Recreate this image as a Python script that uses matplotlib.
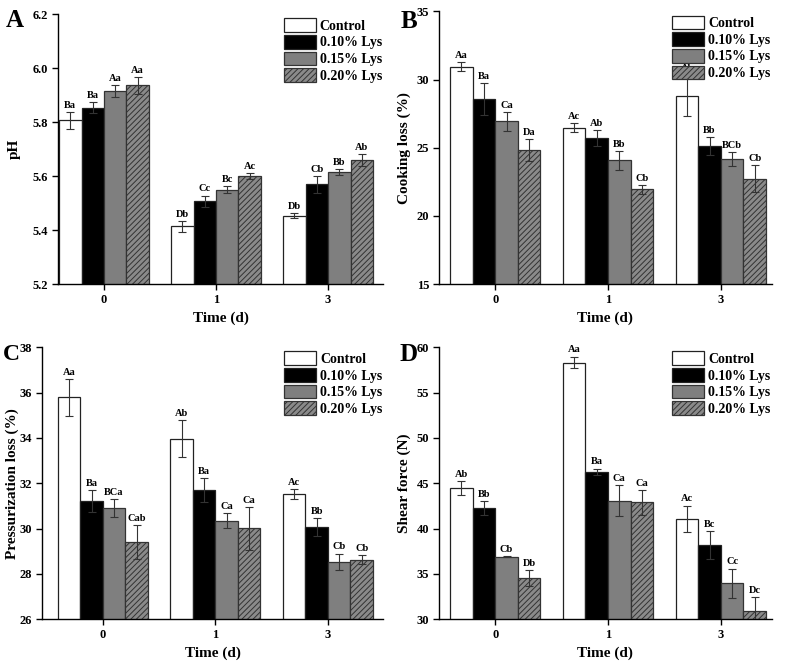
import numpy as np
import matplotlib
matplotlib.use("Agg")
import matplotlib.pyplot as plt
from matplotlib.ticker import FormatStrFormatter

plt.rcParams['font.family'] = ['Liberation Serif', 'DejaVu Serif']
plt.rcParams['font.weight'] = 'bold'
plt.rcParams['axes.labelweight'] = 'bold'
plt.rcParams['hatch.linewidth'] = 0.7

# ---- data (rows = storage day, columns = treatment) ----
days = ['0', '1', '3']
treatments = ['Control', '0.10% Lys', '0.15% Lys', '0.20% Lys']

ph_mean = [[5.806, 5.853, 5.915, 5.936], [5.414, 5.507, 5.550, 5.600], [5.453, 5.569, 5.615, 5.660]]
ph_sd = [[0.031, 0.021, 0.021, 0.031], [0.020, 0.021, 0.012, 0.010], [0.010, 0.031, 0.011, 0.021]]
ph_sig = [['Ba', 'Ba', 'Aa', 'Aa'], ['Db', 'Cc', 'Bc', 'Ac'], ['Db', 'Cb', 'Bb', 'Ab']]

cook_mean = [[30.93, 28.56, 26.95, 24.85], [26.46, 25.73, 24.07, 21.95], [28.80, 25.12, 24.17, 22.73]]
cook_sd = [[0.32, 1.15, 0.70, 0.80], [0.32, 0.60, 0.67, 0.33], [1.50, 0.67, 0.50, 0.98]]
cook_sig = [['Aa', 'Ba', 'Ca', 'Da'], ['Ac', 'Ab', 'Bb', 'Cb'], ['Ab', 'Bb', 'BCb', 'Cb']]

press_mean = [[35.79, 31.21, 30.90, 29.41], [33.96, 31.69, 30.35, 30.01], [31.53, 30.07, 28.53, 28.62]]
press_sd = [[0.82, 0.50, 0.40, 0.75], [0.82, 0.53, 0.33, 0.95], [0.22, 0.38, 0.37, 0.20]]
press_sig = [['Aa', 'Ba', 'BCa', 'Cab'], ['Ab', 'Ba', 'Ca', 'Ca'], ['Ac', 'Bb', 'Cb', 'Cb']]

shear_mean = [[44.49, 42.28, 36.91, 34.56], [58.31, 46.29, 43.09, 42.90], [41.07, 38.20, 34.00, 30.88]]
shear_sd = [[0.77, 0.74, 0.08, 0.90], [0.66, 0.33, 1.70, 1.40], [1.47, 1.50, 1.60, 1.60]]
shear_sig = [['Ab', 'Bb', 'Cb', 'Db'], ['Aa', 'Ba', 'Ca', 'Ca'], ['Ac', 'Bc', 'Cc', 'Dc']]

# ---- styles ----
face = ['white', 'black', '#7f7f7f', '#8a8a8a']
edge = ['#222222', '#222222', '#333333', '#333333']
hatch = [None, None, None, '//////']
width = 0.2


def panel(ax, mean, sd, sig, ylabel, ylim, yticks, ylab_x, xlim):
    mean = np.asarray(mean)
    sd = np.asarray(sd)
    x = np.arange(len(days))
    for j, name in enumerate(treatments):
        xs = x + (j - 1.5) * width
        ax.bar(xs, mean[:, j], width, color=face[j], edgecolor=edge[j],
               hatch=hatch[j], linewidth=0.9, label=name, zorder=2)
        ax.errorbar(xs, mean[:, j], yerr=sd[:, j], fmt='none', ecolor='#333333',
                    elinewidth=0.8, capsize=3, capthick=0.8, zorder=3)
        for k in range(len(days)):
            ax.annotate(sig[k][j], (xs[k], mean[k, j] + sd[k, j]),
                        xytext=(0, 1.5), textcoords='offset points',
                        ha='center', va='bottom', fontsize=7.5, fontweight='bold')
    ax.set_xticks(x)
    ax.set_xticklabels(days)
    ax.set_xlim(*xlim)
    ax.set_ylim(*ylim)
    ax.set_yticks(yticks)
    ax.spines['top'].set_visible(False)
    ax.spines['right'].set_visible(False)
    for s in ('left', 'bottom'):
        ax.spines[s].set_linewidth(1.0)
    ax.tick_params(axis='both', direction='out', length=4, width=1.0,
                   labelsize=9, pad=3)
    ax.set_xlabel('Time (d)', fontsize=11, labelpad=4)
    ax.set_ylabel(ylabel, fontsize=11)
    ax.yaxis.set_label_coords(ylab_x, 0.5)
    ax.legend(loc='upper right', bbox_to_anchor=(1.01, 1.0), frameon=False,
              fontsize=10, handlelength=2.3, handleheight=1.15,
              labelspacing=0.15, handletextpad=0.3, borderaxespad=0.2,
              borderpad=0.1)


fig = plt.figure(figsize=(7.85, 6.67), dpi=100)
ax_a = fig.add_axes([0.0739, 0.574, 0.414, 0.405])
ax_b = fig.add_axes([0.559, 0.574, 0.424, 0.409])
ax_c = fig.add_axes([0.0535, 0.0715, 0.4345, 0.408])
ax_d = fig.add_axes([0.559, 0.0715, 0.424, 0.408])

panel(ax_a, ph_mean, ph_sd, ph_sig, 'pH', (5.2, 6.2),
      np.arange(5.2, 6.21, 0.2), -0.114, (-0.41, 2.49))
ax_a.yaxis.set_major_formatter(FormatStrFormatter('%.1f'))
panel(ax_b, cook_mean, cook_sd, cook_sig, 'Cooking loss (%)', (15, 35),
      [15, 20, 25, 30, 35], -0.084, (-0.5, 2.45))
panel(ax_c, press_mean, press_sd, press_sig, 'Pressurization loss (%)', (26, 38),
      [26, 28, 30, 32, 34, 36, 38], -0.067, (-0.54, 2.49))
panel(ax_d, shear_mean, shear_sd, shear_sig, 'Shear force (N)', (30, 60),
      [30, 35, 40, 45, 50, 55, 60], -0.084, (-0.5, 2.45))

letters = ['A', 'B', 'C', 'D']
letter_pos = [(6, 27, 18), (401, 28, 18), (3, 360, 17), (400, 361, 18)]
for letter, (fx, fy, fs) in zip(letters, letter_pos):
    fig.text(fx / 785, 1 - fy / 667, letter, fontsize=fs, fontweight='bold',
             ha='left', va='baseline')

fig.savefig('out.png', dpi=100)
